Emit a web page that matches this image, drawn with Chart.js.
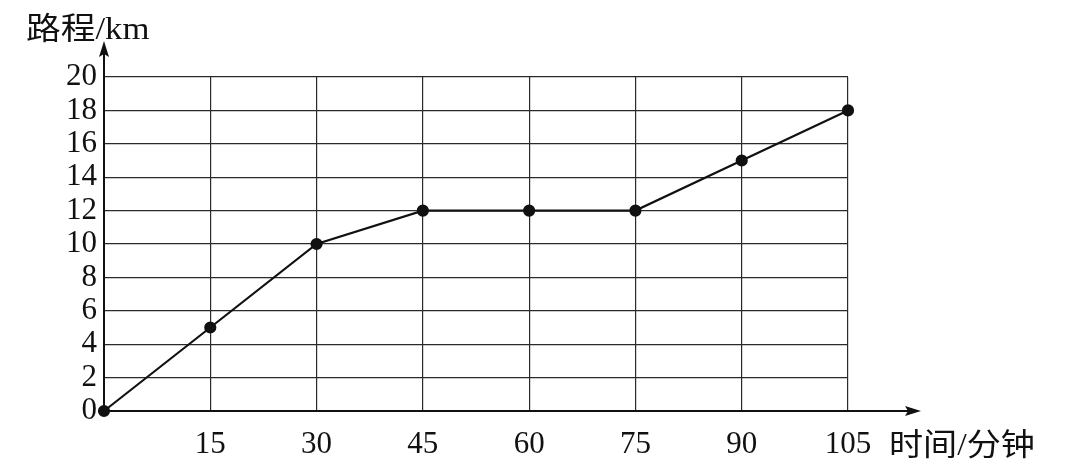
<!DOCTYPE html>
<html>
<head>
<meta charset="utf-8">
<script src="https://cdn.jsdelivr.net/npm/chart.js@4/dist/chart.umd.min.js"></script>
<style>
  html, body { margin: 0; padding: 0; background: #fff; }
  #wrap { width: 1065px; height: 468px; }
</style>
</head>
<body>
<div id="wrap"><canvas id="c" width="1065" height="468"></canvas></div>
<script>
// dados
const tempos = [0, 15, 30, 45, 60, 75, 90, 105];
const distancias = [0, 5, 10, 12, 12, 12, 15, 18];
const yTicks = [0, 2, 4, 6, 8, 10, 12, 14, 16, 18, 20];
const yLabel = '路程/km';
const xLabel = '时间/分钟';

const FONT = "'Liberation Serif', 'Noto Sans CJK SC', serif";

// texto esticado na horizontal (como no original)
function drawStretched(ctx, text, x, y, sx) {
    ctx.save();
    ctx.translate(x, y);
    ctx.scale(sx, 1);
    ctx.fillText(text, 0, 0);
    ctx.restore();
}

// setas dos eixos + textos dos eixos
const axisPlugin = {
    id: 'axisArrows',
    afterDraw(chart) {
        const { ctx } = chart;
        const x = chart.scales.x, y = chart.scales.y;
        const x0 = x.getPixelForValue(0);
        const y0 = y.getPixelForValue(0);
        ctx.save();
        ctx.strokeStyle = '#111';
        ctx.fillStyle = '#111';
        ctx.lineWidth = 2;
        // eixo x
        ctx.beginPath();
        ctx.moveTo(x0, y0);
        ctx.lineTo(910, y0);
        ctx.stroke();
        ctx.beginPath();
        ctx.moveTo(921, y0);
        ctx.lineTo(905, y0 - 5);
        ctx.lineTo(908, y0);
        ctx.lineTo(905, y0 + 5);
        ctx.closePath();
        ctx.fill();
        // eixo y
        ctx.beginPath();
        ctx.moveTo(x0, y0);
        ctx.lineTo(x0, 52);
        ctx.stroke();
        ctx.beginPath();
        ctx.moveTo(x0, 41);
        ctx.lineTo(x0 - 5, 57);
        ctx.lineTo(x0, 54);
        ctx.lineTo(x0 + 5, 57);
        ctx.closePath();
        ctx.fill();
        // textos
        ctx.font = '31px ' + FONT;
        ctx.textBaseline = 'alphabetic';
        ctx.textAlign = 'left';
        drawStretched(ctx, yLabel, 26, 39, 1.12);
        drawStretched(ctx, xLabel, 889, 455, 1.1);
        ctx.restore();
    }
};

new Chart(document.getElementById('c').getContext('2d'), {
    type: 'line',
    data: {
        datasets: [{
            data: tempos.map((t, i) => ({ x: t, y: distancias[i] })),
            borderColor: '#111',
            borderWidth: 2.2,
            backgroundColor: '#111',
            pointBackgroundColor: '#111',
            pointBorderColor: '#111',
            pointRadius: 5,
            tension: 0,
            clip: false
        }]
    },
    options: {
        responsive: false,
        animation: false,
        layout: { padding: { top: 77, right: 217, left: 0, bottom: 0 } },
        plugins: {
            legend: { display: false },
            tooltip: { enabled: false }
        },
        scales: {
            x: {
                type: 'linear',
                min: 0,
                max: 105,
                afterFit(scale) { scale.height = 57; },
                afterBuildTicks(scale) { scale.ticks = tempos.map(v => ({ value: v })); },
                grid: { color: '#2a2a2a', lineWidth: 1.2, drawTicks: false },
                border: { color: '#111', width: 2 },
                ticks: {
                    color: '#111',
                    font: { family: FONT, size: 31, lineHeight: 1 },
                    padding: 18,
                    maxRotation: 0,
                    autoSkip: false,
                    callback: v => (v === 0 ? '' : String(v))
                }
            },
            y: {
                min: 0,
                max: 20,
                afterFit(scale) { scale.width = 104; },
                afterBuildTicks(scale) { scale.ticks = yTicks.map(v => ({ value: v })); },
                grid: { color: '#2a2a2a', lineWidth: 1.2, drawTicks: false },
                border: { color: '#111', width: 2 },
                ticks: {
                    color: '#111',
                    font: { family: FONT, size: 31, lineHeight: 1 },
                    padding: 7,
                    autoSkip: false
                }
            }
        }
    },
    plugins: [axisPlugin]
});
</script>
</body>
</html>
